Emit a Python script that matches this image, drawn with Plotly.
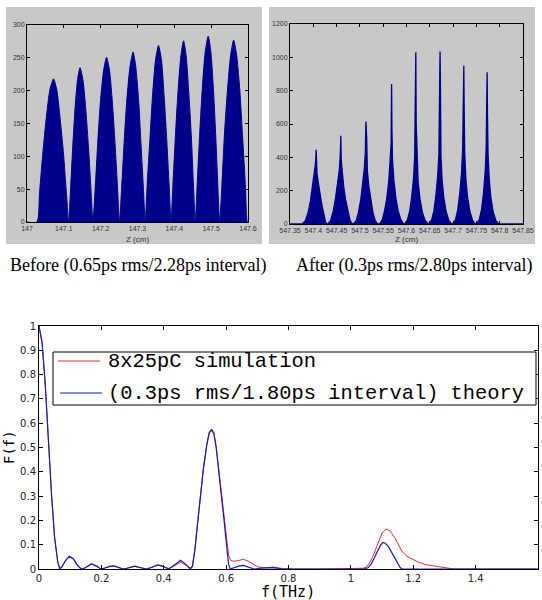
import plotly.graph_objects as go

# ---------------- data: "Before" histogram outline (Z in cm, counts) ----------------
left_z = [147.000, 147.027, 147.034, 147.043, 147.052, 147.062, 147.072, 147.081, 147.090, 147.099, 147.107, 147.113,
          147.118, 147.124, 147.130, 147.137, 147.144, 147.152, 147.160, 147.167, 147.174, 147.179,
          147.185, 147.192, 147.199, 147.208, 147.216, 147.224, 147.232, 147.239, 147.246, 147.251,
          147.257, 147.264, 147.271, 147.280, 147.288, 147.295, 147.303, 147.309, 147.316, 147.321,
          147.326, 147.334, 147.341, 147.349, 147.357, 147.365, 147.372, 147.379, 147.386, 147.391,
          147.396, 147.403, 147.410, 147.418, 147.425, 147.432, 147.439, 147.446, 147.452, 147.457,
          147.462, 147.469, 147.476, 147.484, 147.492, 147.499, 147.506, 147.512, 147.518, 147.523,
          147.529, 147.536, 147.544, 147.553, 147.561, 147.569, 147.578, 147.585, 147.593, 147.598, 147.600]
left_n = [0, 0, 44, 105, 157, 201, 218, 201, 157, 105, 44, 0,
          47, 113, 169, 216, 235, 216, 169, 113, 47, 0,
          50, 120, 181, 231, 251, 231, 181, 120, 50, 0,
          52, 124, 186, 238, 259, 238, 186, 124, 52, 0,
          54, 129, 194, 247, 269, 247, 194, 129, 54, 0,
          55, 132, 199, 254, 276, 254, 199, 132, 55, 0,
          57, 136, 204, 260, 283, 260, 204, 136, 57, 0,
          55, 133, 199, 255, 277, 255, 199, 133, 55, 0, 0]

# ---------------- data: "After" histogram outline ----------------
right_z = [547.350, 547.376,
           547.383, 547.389, 547.394, 547.398, 547.402, 547.4045, 547.4055, 547.406, 547.4068, 547.408, 547.411, 547.414, 547.418, 547.422, 547.426, 547.429,
           547.431, 547.437, 547.443, 547.448, 547.452, 547.456, 547.458, 547.459, 547.460, 547.462, 547.465, 547.469, 547.474, 547.479, 547.484,
           547.486, 547.492, 547.497, 547.502, 547.506, 547.509, 547.5115, 547.513, 547.5145, 547.516, 547.519, 547.523, 547.528, 547.533, 547.538,
           547.542, 547.548, 547.553, 547.558, 547.562, 547.565, 547.567, 547.5675, 547.568, 547.5688, 547.570, 547.573, 547.577, 547.582, 547.588, 547.594,
           547.596, 547.602, 547.607, 547.611, 547.615, 547.6175, 547.619, 547.620, 547.6208, 547.6225, 547.625, 547.629, 547.634, 547.640, 547.646,
           547.648, 547.654, 547.659, 547.663, 547.667, 547.6695, 547.671, 547.672, 547.6728, 547.674, 547.6765, 547.680, 547.685, 547.691, 547.697,
           547.699, 547.705, 547.710, 547.714, 547.718, 547.7205, 547.722, 547.723, 547.7238, 547.725, 547.7275, 547.731, 547.736, 547.742, 547.748,
           547.750, 547.756, 547.761, 547.765, 547.769, 547.771, 547.772, 547.7725, 547.773, 547.7738, 547.775, 547.7775, 547.781, 547.786, 547.792, 547.798,
           547.850]
right_n = [0, 0,
           20, 70, 140, 220, 290, 360, 400, 445, 400, 300, 230, 190, 120, 60, 15, 0,
           0, 20, 80, 160, 250, 330, 420, 530, 380, 300, 230, 150, 80, 20, 0,
           0, 20, 70, 150, 240, 320, 420, 615, 520, 320, 230, 150, 70, 20, 0,
           0, 25, 80, 160, 260, 360, 480, 670, 840, 560, 380, 260, 160, 80, 25, 0,
           0, 25, 80, 160, 270, 400, 760, 1030, 600, 380, 250, 150, 70, 20, 0,
           0, 25, 80, 170, 290, 420, 720, 1035, 840, 400, 260, 160, 75, 20, 0,
           0, 25, 85, 175, 300, 450, 840, 950, 680, 420, 270, 160, 75, 20, 0,
           0, 25, 85, 180, 320, 460, 655, 820, 910, 660, 420, 270, 160, 70, 20, 0,
           0]

# ---------------- data: form factor spectra ----------------
f_sim = [0, 0.01, 0.02, 0.03, 0.04, 0.05, 0.06, 0.067, 0.075, 0.085,
         0.097, 0.11, 0.122, 0.133, 0.14, 0.15, 0.168, 0.185, 0.198, 0.21,
         0.225, 0.24, 0.255, 0.27, 0.285, 0.307, 0.33, 0.345, 0.36, 0.381,
         0.40, 0.415, 0.43, 0.454, 0.47, 0.485, 0.492, 0.50, 0.508, 0.517,
         0.527, 0.538, 0.546, 0.554, 0.561, 0.568, 0.577, 0.587, 0.595, 0.602,
         0.608, 0.615, 0.625, 0.64, 0.655, 0.67, 0.685, 0.70, 0.72, 0.75,
         0.78, 0.82, 0.9, 1.0, 1.02, 1.04, 1.05, 1.06, 1.07, 1.08,
         1.09, 1.10, 1.113, 1.125, 1.14, 1.15, 1.164, 1.18, 1.20, 1.217,
         1.24, 1.27, 1.30, 1.33, 1.6]
F_sim = [1.0, 0.93, 0.76, 0.53, 0.31, 0.13, 0.03, 0.0, 0.012, 0.035,
         0.05, 0.041, 0.018, 0.003, 0.0, 0.006, 0.02, 0.011, 0.0, 0.004,
         0.011, 0.012, 0.005, 0.0, 0.004, 0.011, 0.004, 0.0, 0.006, 0.016,
         0.01, 0.001, 0.01, 0.028, 0.016, 0.004, 0.014, 0.085, 0.185, 0.295,
         0.415, 0.515, 0.565, 0.576, 0.56, 0.505, 0.405, 0.295, 0.19, 0.105,
         0.055, 0.035, 0.032, 0.035, 0.04, 0.033, 0.02, 0.01, 0.004, 0.008,
         0.002, 0.0, 0.0, 0.002, 0.004, 0.003, 0.008, 0.025, 0.05, 0.085,
         0.12, 0.148, 0.164, 0.158, 0.13, 0.105, 0.072, 0.052, 0.038, 0.028,
         0.018, 0.011, 0.004, 0.0, 0.0]

f_th = [0, 0.01, 0.02, 0.03, 0.04, 0.05, 0.06, 0.067, 0.075, 0.085,
        0.097, 0.11, 0.122, 0.133, 0.14, 0.15, 0.168, 0.185, 0.198, 0.21,
        0.225, 0.24, 0.255, 0.27, 0.285, 0.307, 0.33, 0.345, 0.36, 0.381,
        0.40, 0.415, 0.43, 0.454, 0.47, 0.485, 0.492, 0.50, 0.508, 0.517,
        0.527, 0.538, 0.546, 0.554, 0.561, 0.568, 0.577, 0.587, 0.595, 0.602,
        0.608, 0.613, 0.62, 0.64, 0.655, 0.675, 0.69, 0.72, 0.75, 0.78,
        1.0, 1.02, 1.04, 1.055, 1.065, 1.075, 1.085, 1.095, 1.103, 1.11,
        1.12, 1.13, 1.14, 1.15, 1.158, 1.165, 1.6]
F_th = [1.0, 0.93, 0.76, 0.53, 0.31, 0.13, 0.03, 0.0, 0.012, 0.035,
        0.052, 0.042, 0.018, 0.002, 0.0, 0.006, 0.022, 0.012, 0.0, 0.003,
        0.01, 0.013, 0.006, 0.0, 0.004, 0.012, 0.004, 0.0, 0.006, 0.017,
        0.01, 0.0, 0.012, 0.036, 0.02, 0.0, 0.01, 0.08, 0.18, 0.29,
        0.41, 0.51, 0.56, 0.572, 0.555, 0.5, 0.4, 0.29, 0.18, 0.09,
        0.02, 0.0, 0.003, 0.012, 0.015, 0.007, 0.0, 0.005, 0.006, 0.0,
        0.0, 0.003, 0.0, 0.005, 0.02, 0.045, 0.075, 0.098, 0.109, 0.106,
        0.093, 0.07, 0.045, 0.022, 0.006, 0.0, 0.0]

left_ticks = [147, 147.1, 147.2, 147.3, 147.4, 147.5, 147.6]
left_ticktext = ["147", "147.1", "147.2", "147.3", "147.4", "147.5", "147.6"]
right_ticks = [547.35, 547.4, 547.45, 547.5, 547.55, 547.6, 547.65, 547.7, 547.75, 547.8, 547.85]
right_ticktext = ["547.35", "547.4", "547.45", "547.5", "547.55", "547.6", "547.65", "547.7", "547.75", "547.8", "547.85"]
freq_ticks = [0, 0.2, 0.4, 0.6, 0.8, 1.0, 1.2, 1.4, 1.6]
freq_ticktext = ["0", "0.2", "0.4", "0.6", "0.8", "1", "1.2", "1.4", "1.6"]

caption_before = "Before (0.65ps rms/2.28ps interval)"
caption_after = "After (0.3ps rms/2.80ps interval)"
sim_name = "8x25pC simulation"
th_name = "(0.3ps rms/1.80ps interval) theory"

# ---------------- figure ----------------
W, H = 542, 600
NAVY = "rgb(0,0,140)"
GRAY = "rgb(200,200,200)"
RED = "rgb(225,45,45)"
BLUE = "rgb(25,25,200)"


def fx(p):
    return p / W


def fy(p):
    return 1 - p / H


fig = go.Figure()
fig.add_trace(go.Scatter(x=left_z, y=left_n, mode="lines", fill="tozeroy", fillcolor=NAVY,
                         line=dict(color=NAVY, width=1, shape="spline", smoothing=0.6), xaxis="x", yaxis="y",
                         showlegend=False, hoverinfo="skip"))
fig.add_trace(go.Scatter(x=right_z, y=right_n, mode="lines", fill="tozeroy", fillcolor=NAVY,
                         line=dict(color=NAVY, width=1.3), xaxis="x2", yaxis="y2",
                         showlegend=False, hoverinfo="skip"))
fig.add_trace(go.Scatter(x=f_sim, y=F_sim, mode="lines", name=sim_name, showlegend=False,
                         line=dict(color=RED, width=1), xaxis="x3", yaxis="y3"))
fig.add_trace(go.Scatter(x=f_th, y=F_th, mode="lines", name=th_name, showlegend=False,
                         line=dict(color=BLUE, width=1.2), xaxis="x3", yaxis="y3"))

small_font = dict(family="Liberation Sans, Arial", size=7, color="#333")
common = dict(showline=True, linecolor="black", linewidth=1, mirror="ticks", ticks="inside",
              ticklen=3, tickcolor="black", showgrid=False, zeroline=False, automargin=False)
bottom_font = dict(family="DejaVu Sans", size=10, color="#222")

# legend drawn as a boxed key inside the lower plot (positions in page pixels)
legend_box = dict(type="rect", xref="paper", yref="paper", x0=fx(53), x1=fx(536), y0=fy(405), y1=fy(352),
                  fillcolor="white", line=dict(color="black", width=1), layer="above")
legend_red = dict(type="line", xref="paper", yref="paper", x0=fx(58), x1=fx(100), y0=fy(361), y1=fy(361),
                  line=dict(color=RED, width=1), layer="above")
legend_blue = dict(type="line", xref="paper", yref="paper", x0=fx(60), x1=fx(102), y0=fy(393), y1=fy(393),
                   line=dict(color=BLUE, width=1.2), layer="above")
mono = dict(family="Liberation Mono, Courier New", size=20.4, color="black")
serif = dict(family="Liberation Serif, Times New Roman", size=18, color="black")

fig.update_layout(
    width=W, height=H, margin=dict(l=0, r=0, t=0, b=0),
    paper_bgcolor="white", plot_bgcolor="white", showlegend=False,
    xaxis=dict(domain=[fx(27), fx(248)], range=[147, 147.6], tickvals=left_ticks, ticktext=left_ticktext,
               anchor="y", tickfont=small_font, **common),
    yaxis=dict(domain=[fy(222), fy(25)], range=[0, 300], dtick=50, anchor="x", tickfont=small_font, **common),
    xaxis2=dict(domain=[fx(290), fx(523)], range=[547.35, 547.85], tickvals=right_ticks, ticktext=right_ticktext,
                anchor="y2", tickfont=small_font, **common),
    yaxis2=dict(domain=[fy(224), fy(24)], range=[0, 1200], dtick=200, anchor="x2", tickfont=small_font, **common),
    xaxis3=dict(domain=[fx(39), fx(538)], range=[0, 1.6], tickvals=freq_ticks, ticktext=freq_ticktext,
                anchor="y3", tickfont=bottom_font, **dict(common, ticklen=4)),
    yaxis3=dict(domain=[fy(569), fy(326)], range=[0, 1], dtick=0.1, anchor="x3",
                tickfont=bottom_font, **dict(common, ticklen=4)),
    shapes=[
        dict(type="rect", xref="paper", yref="paper", x0=fx(6), x1=fx(262), y0=fy(244), y1=fy(7),
             fillcolor=GRAY, line=dict(width=0), layer="below"),
        dict(type="rect", xref="paper", yref="paper", x0=fx(269), x1=fx(535), y0=fy(244), y1=fy(7),
             fillcolor=GRAY, line=dict(width=0), layer="below"),
        legend_box, legend_red, legend_blue,
    ],
    annotations=[
        dict(text="Z (cm)", xref="paper", yref="paper", x=fx(137), y=fy(239), xanchor="center", yanchor="middle",
             showarrow=False, font=dict(family="Liberation Sans, Arial", size=8, color="#333")),
        dict(text="Z (cm)", xref="paper", yref="paper", x=fx(406), y=fy(239), xanchor="center", yanchor="middle",
             showarrow=False, font=dict(family="Liberation Sans, Arial", size=8, color="#333")),
        dict(text=caption_before, xref="paper", yref="paper", x=fx(268), y=fy(265), xanchor="right",
             yanchor="middle", showarrow=False, font=serif),
        dict(text=caption_after, xref="paper", yref="paper", x=fx(294), y=fy(265), xanchor="left",
             yanchor="middle", showarrow=False, font=serif),
        dict(text="f(THz)", xref="paper", yref="paper", x=fx(288), y=fy(592), xanchor="center", yanchor="middle",
             showarrow=False, font=dict(family="DejaVu Sans Mono", size=15, color="black")),
        dict(text="F(f)", xref="paper", yref="paper", x=fx(9), y=fy(447), xanchor="center", yanchor="middle",
             textangle=-90, showarrow=False, font=dict(family="DejaVu Sans Mono", size=14, color="black")),
        dict(text=sim_name, xref="paper", yref="paper", x=fx(106), y=fy(361), xanchor="left", yanchor="middle",
             showarrow=False, font=mono),
        dict(text=th_name, xref="paper", yref="paper", x=fx(106), y=fy(393), xanchor="left", yanchor="middle",
             showarrow=False, font=mono),
    ],
)

fig.write_html("out.html", config={"displayModeBar": False},
               post_script="document.body.style.margin='0';")
